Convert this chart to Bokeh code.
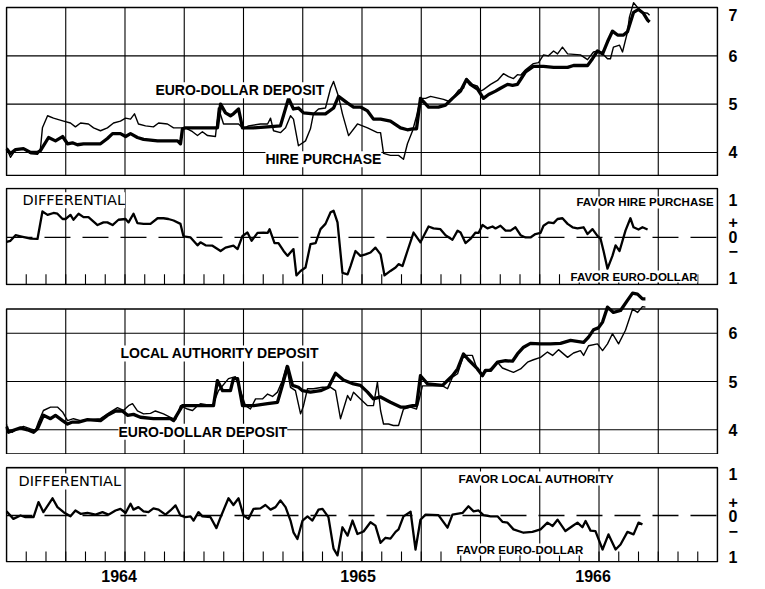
from bokeh.plotting import figure
from bokeh.layouts import column
from bokeh.models import Range1d, FixedTicker, Label
from bokeh.embed import file_html
from bokeh.resources import INLINE

# ---------------- data (x = months since Jan 1964, y = percent) ----------------
ED_TOP = [(0,4.08),(0.2,3.98),(0.46,4.06),(0.86,4.08),(1.22,4.0),(1.57,4.0),(1.72,4.04),(2.13,4.31),(2.48,4.24),(2.84,4.33),(3.09,4.18),(3.34,4.2),(3.59,4.16),(3.9,4.18),(4.76,4.18),(5.11,4.29),(5.37,4.39),(5.77,4.39),(6.03,4.33),(6.28,4.39),(6.63,4.31),(6.94,4.27),(7.65,4.24),(8.66,4.24),(8.81,4.18),(8.91,4.49),(9.06,4.51),(10.68,4.51),(10.84,5.0),(11.09,4.82),(11.34,4.76),(11.49,4.8),(11.75,4.9),(11.95,4.51),(12.51,4.51),(13.22,4.53),(13.87,4.55),(14.28,5.12),(14.53,4.9),(14.78,4.92),(15.04,4.82),(15.54,4.8),(16.15,4.8),(16.56,4.92),(16.81,5.16),(17.27,5.02),(17.57,4.94),(17.92,4.94),(18.28,4.86),(18.58,4.69),(18.94,4.69),(19.44,4.65),(19.95,4.51),(20.3,4.47),(20.56,4.49),(20.76,4.49),(20.96,5.12),(21.37,4.94),(21.87,4.94),(22.23,4.98),(22.58,5.12),(22.99,5.27),(23.29,5.51),(23.49,5.41),(23.85,5.31),(24.15,5.12),(24.41,5.2),(24.76,5.27),(25.01,5.33),(25.37,5.41),(25.62,5.39),(25.87,5.41),(26.03,5.51),(26.28,5.67),(26.68,5.78),(27.19,5.78),(27.7,5.76),(28.41,5.76),(28.71,5.8),(29.42,5.8),(29.67,5.94),(29.92,6.1),(30.18,6.04),(30.43,6.29),(30.68,6.51),(30.94,6.43),(31.24,6.43),(31.44,6.5),(31.75,6.9),(32.0,6.96),(32.25,6.88),(32.46,6.74),(32.56,6.7)]

HP_TOP = [(0,4.1),(0.2,3.9),(0.46,4.06),(0.86,4.08),(1.22,3.98),(1.57,3.96),(1.72,4.08),(1.82,4.51),(2.08,4.76),(2.38,4.71),(2.89,4.65),(3.24,4.61),(3.49,4.53),(3.75,4.61),(4.15,4.59),(4.41,4.51),(4.76,4.45),(5.11,4.51),(5.42,4.61),(5.77,4.65),(6.03,4.71),(6.28,4.69),(6.48,4.8),(6.68,4.59),(7.04,4.55),(7.44,4.53),(7.7,4.61),(8.15,4.59),(8.46,4.51),(8.91,4.51),(9.06,4.51),(9.42,4.43),(9.67,4.35),(9.92,4.43),(10.18,4.35),(10.58,4.33),(10.73,4.92),(10.99,4.59),(11.49,4.59),(11.75,4.59),(12.0,4.49),(12.25,4.55),(12.86,4.59),(13.22,4.59),(13.37,4.71),(13.52,4.45),(13.87,4.41),(14.13,4.51),(14.38,4.76),(14.53,4.69),(14.78,4.14),(15.14,4.24),(15.39,4.49),(15.54,4.8),(15.8,4.9),(16.15,4.92),(16.41,5.33),(16.56,5.47),(16.81,5.16),(17.01,4.8),(17.32,4.35),(17.77,4.59),(18.28,4.51),(18.78,4.41),(18.94,4.41),(19.09,3.98),(19.44,3.94),(19.85,3.94),(20.1,3.86),(20.3,4.18),(20.56,4.45),(20.76,4.75),(20.96,5.12),(21.22,5.12),(21.47,5.16),(22.13,5.1),(22.38,5.06),(22.58,5.12),(22.89,5.29),(23.14,5.33),(23.29,5.53),(23.59,5.41),(23.85,5.37),(24.0,5.27),(24.15,5.3),(24.51,5.41),(24.86,5.49),(25.16,5.63),(25.42,5.57),(25.67,5.53),(25.87,5.61),(26.03,5.6),(26.28,5.71),(26.68,5.84),(26.94,5.86),(27.19,6.02),(27.44,6.0),(27.7,6.1),(27.9,6.04),(28.15,6.18),(28.41,6.04),(29.06,6.02),(29.42,5.92),(29.72,6.08),(29.97,6.1),(30.23,6.02),(30.43,5.94),(30.58,5.94),(30.73,6.18),(31.04,6.22),(31.19,6.08),(31.44,6.49),(31.54,6.8),(31.75,7.1),(31.95,7.0),(32.2,6.9),(32.46,6.88),(32.56,6.84)]

DIFF_TOP = [(0,-0.12),(0.2,-0.09),(0.46,0.06),(0.71,0.03),(1.22,-0.03),(1.57,-0.04),(1.82,0.69),(2.08,0.6),(2.38,0.65),(2.58,0.63),(2.84,0.49),(2.99,0.49),(3.24,0.6),(3.39,0.47),(3.65,0.63),(3.9,0.54),(4.15,0.54),(4.61,0.33),(4.91,0.4),(5.11,0.4),(5.37,0.33),(5.67,0.47),(6.03,0.49),(6.18,0.4),(6.43,0.63),(6.63,0.38),(6.94,0.36),(7.29,0.36),(7.65,0.51),(7.95,0.51),(8.2,0.49),(8.46,0.45),(8.81,0.36),(8.96,0.03),(9.32,0.0),(9.67,-0.21),(9.82,-0.13),(10.08,-0.21),(10.43,-0.22),(10.84,-0.36),(11.09,-0.27),(11.49,-0.22),(11.7,-0.31),(11.95,0.04),(12.2,0.13),(12.41,-0.09),(12.71,0.12),(13.01,0.13),(13.22,0.12),(13.32,0.22),(13.57,-0.15),(13.77,-0.15),(14.03,-0.36),(14.23,-0.49),(14.53,-0.31),(14.68,-1.01),(14.89,-0.89),(15.14,-0.8),(15.39,-0.18),(15.65,-0.15),(15.9,0.22),(16.15,0.36),(16.41,0.67),(16.56,0.71),(16.76,0.4),(17.01,-0.94),(17.27,-0.98),(17.42,-0.76),(17.67,-0.36),(17.92,-0.49),(18.18,-0.45),(18.43,-0.4),(18.68,-0.27),(18.94,-0.45),(19.14,-1.01),(19.44,-0.89),(19.7,-0.8),(19.85,-0.71),(20.05,-0.76),(20.3,-0.36),(20.61,0.13),(20.96,-0.13),(21.37,0.29),(21.62,0.24),(21.97,0.22),(22.23,0.06),(22.58,-0.06),(22.84,0.18),(22.99,0.13),(23.24,-0.15),(23.49,-0.04),(23.75,0.13),(23.9,0.12),(24.1,0.33),(24.35,0.24),(24.61,0.29),(24.76,0.24),(25.01,0.31),(25.27,0.18),(25.52,0.18),(25.77,0.27),(26.03,0.06),(26.28,0.0),(26.53,0.0),(26.78,0.09),(27.04,0.12),(27.19,0.31),(27.44,0.4),(27.7,0.38),(27.9,0.49),(28.15,0.51),(28.41,0.36),(28.66,0.27),(28.91,0.24),(29.22,0.27),(29.42,0.09),(29.67,0.22),(29.92,0.04),(30.08,-0.04),(30.23,-0.36),(30.43,-0.83),(30.68,-0.49),(30.84,-0.21),(31.04,-0.36),(31.34,0.18),(31.59,0.51),(31.75,0.27),(32.0,0.21),(32.2,0.27),(32.46,0.21)]

ED_BOT = [(0,4.07),(0.1,3.95),(0.35,3.99),(0.71,4.04),(1.06,4.0),(1.37,3.95),(1.57,4.02),(1.87,4.3),(2.23,4.23),(2.48,4.3),(2.84,4.19),(3.09,4.12),(3.34,4.16),(3.65,4.16),(4.1,4.21),(4.76,4.19),(5.11,4.3),(5.52,4.39),(5.87,4.39),(6.13,4.3),(6.43,4.32),(6.78,4.26),(7.44,4.23),(8.3,4.23),(8.46,4.19),(8.91,4.5),(9.82,4.5),(10.48,4.5),(10.68,5.02),(10.94,4.81),(11.34,4.81),(11.49,5.06),(11.7,5.06),(11.95,4.5),(12.51,4.5),(13.22,4.54),(13.72,4.57),(13.97,4.92),(14.23,5.31),(14.48,4.92),(14.78,4.88),(14.99,4.81),(15.39,4.78),(15.9,4.81),(16.3,4.88),(16.66,5.17),(17.06,5.03),(17.57,4.95),(17.92,4.92),(18.28,4.78),(18.58,4.64),(18.94,4.68),(19.44,4.57),(19.95,4.47),(20.2,4.47),(20.56,4.5),(20.76,4.5),(20.96,5.12),(21.32,4.95),(22.08,4.92),(22.33,5.02),(22.58,5.12),(22.84,5.26),(23.14,5.57),(23.39,5.45),(23.85,5.26),(24.1,5.12),(24.25,5.23),(24.51,5.23),(24.86,5.4),(25.27,5.43),(25.62,5.42),(25.87,5.57),(26.18,5.71),(26.53,5.79),(27.04,5.78),(27.54,5.78),(28.05,5.79),(28.56,5.85),(29.22,5.81),(29.47,5.92),(29.72,6.07),(29.97,6.11),(30.18,6.23),(30.43,6.54),(30.73,6.43),(31.09,6.47),(31.44,6.68),(31.7,6.83),(31.95,6.81),(32.2,6.71),(32.35,6.71)]

LA_BOT = [(0,4.12),(0.05,3.99),(0.3,3.95),(0.56,4.02),(0.86,4.07),(1.22,4.02),(1.47,3.99),(1.62,4.16),(1.87,4.4),(2.23,4.47),(2.58,4.47),(2.84,4.37),(3.09,4.19),(3.39,4.23),(3.75,4.19),(4.25,4.21),(4.76,4.23),(5.27,4.37),(5.62,4.46),(5.92,4.4),(6.18,4.5),(6.38,4.54),(6.63,4.39),(6.94,4.33),(7.29,4.34),(7.54,4.39),(7.95,4.33),(8.3,4.26),(8.56,4.21),(8.81,4.5),(9.16,4.43),(9.42,4.4),(9.67,4.5),(9.82,4.54),(10.43,4.5),(10.73,4.81),(11.24,5.06),(11.59,5.1),(11.85,4.81),(12.1,4.5),(12.35,4.43),(12.61,4.64),(12.96,4.64),(13.22,4.74),(13.47,4.69),(13.72,4.78),(13.97,5.02),(14.18,5.33),(14.38,4.88),(14.63,4.81),(14.89,4.33),(15.04,4.5),(15.24,4.85),(15.54,4.85),(16.0,4.88),(16.41,4.88),(16.66,4.81),(16.91,4.23),(17.27,4.71),(17.42,4.61),(17.57,4.78),(17.92,4.64),(18.28,4.5),(18.58,4.5),(18.78,4.99),(18.94,4.4),(19.09,4.12),(19.34,4.12),(19.59,4.09),(19.85,4.09),(20.1,4.43),(20.46,4.47),(20.76,4.43),(20.86,4.57),(21.06,4.91),(21.37,4.91),(22.08,4.91),(22.33,4.85),(22.58,5.09),(22.84,5.16),(23.14,5.54),(23.59,5.54),(23.85,5.23),(24.1,5.16),(24.51,5.26),(24.86,5.4),(25.11,5.28),(25.67,5.19),(26.03,5.26),(26.38,5.4),(26.68,5.45),(27.04,5.5),(27.39,5.61),(27.65,5.54),(27.95,5.66),(28.41,5.5),(28.71,5.59),(29.06,5.64),(29.22,5.54),(29.47,5.74),(29.92,5.78),(30.18,5.64),(30.43,5.78),(30.68,5.99),(30.99,5.78),(31.34,6.06),(31.7,6.5),(31.95,6.43),(32.2,6.55),(32.35,6.54)]

DIFF_BOT = [(0,0.1),(0.35,-0.08),(0.71,0.0),(0.96,-0.04),(1.37,-0.04),(1.62,0.32),(1.87,0.08),(2.33,0.41),(2.58,0.2),(2.89,0.08),(3.24,-0.02),(3.49,0.12),(3.75,0.04),(4.1,0.06),(4.51,0.02),(4.86,0.08),(5.16,0.02),(5.52,0.12),(5.77,0.16),(6.03,0.06),(6.28,0.28),(6.43,0.14),(6.68,0.2),(6.94,0.1),(7.19,0.08),(7.44,0.17),(7.7,0.14),(8.05,0.02),(8.3,0.12),(8.56,0.24),(8.81,0.0),(9.06,-0.04),(9.32,-0.02),(9.47,-0.12),(9.72,0.08),(9.92,-0.02),(10.33,-0.04),(10.63,-0.3),(10.84,-0.04),(11.24,0.41),(11.49,0.25),(11.75,0.41),(12.0,0.0),(12.25,-0.08),(12.51,0.16),(12.86,0.17),(13.11,0.25),(13.37,0.14),(13.62,0.2),(13.87,0.36),(14.13,0.2),(14.38,-0.12),(14.53,-0.4),(14.73,-0.56),(14.99,-0.12),(15.24,-0.02),(15.49,-0.12),(15.8,0.14),(16.0,0.16),(16.3,-0.04),(16.56,-0.79),(16.76,-0.95),(17.01,-0.28),(17.27,-0.48),(17.52,-0.12),(17.77,-0.44),(18.08,-0.38),(18.43,-0.16),(18.68,-0.24),(18.94,-0.65),(19.19,-0.53),(19.44,-0.55),(19.7,-0.39),(19.85,-0.33),(20.1,-0.02),(20.46,0.09),(20.71,-0.81),(20.96,-0.1),(21.22,0.02),(21.87,0.01),(22.33,-0.29),(22.58,0.02),(23.09,0.06),(23.39,0.22),(23.65,0.1),(23.9,0.12),(24.15,0.01),(24.51,-0.02),(24.86,-0.02),(25.11,-0.15),(25.37,-0.17),(25.67,-0.33),(26.18,-0.41),(26.63,-0.39),(27.04,-0.33),(27.39,-0.17),(27.65,-0.25),(27.9,-0.1),(28.3,-0.37),(28.66,-0.25),(28.91,-0.17),(29.16,-0.28),(29.32,-0.13),(29.57,-0.36),(29.82,-0.37),(30.18,-0.81),(30.48,-0.45),(30.84,-0.81),(31.09,-0.69),(31.44,-0.39),(31.75,-0.45),(32.0,-0.17),(32.2,-0.21)]

QUARTERS = [3, 6, 9, 12, 15, 18, 21, 24, 27, 30, 33]
MONTHS = list(range(1, 36))
YEAR_LABELS = ["1964", "1965", "1966"]
YEAR_POS = [5.7, 17.8, 29.7]

FONT = "Liberation Sans"
FONT_THIN = "DejaVu Sans"

W = 763
LB = 5
RB = 45


def xs(d):
    return [a for a, b in d]


def ys(d):
    return [b for a, b in d]


def panel(h, y0, y1, top, bottom, ticks, overrides, xaxis=False):
    p = figure(width=W, height=h, x_range=Range1d(-0.05, 36.05), y_range=Range1d(y0, y1),
               output_backend="svg", toolbar_location=None,
               x_axis_location="below" if xaxis else None, y_axis_location="right",
               min_border_left=LB, min_border_right=RB, min_border_top=top,
               min_border_bottom=bottom)
    p.grid.visible = False
    p.outline_line_color = None
    ax = p.yaxis[0]
    ax.ticker = FixedTicker(ticks=ticks)
    ax.major_label_overrides = overrides
    ax.axis_line_color = None
    ax.major_tick_line_color = None
    ax.minor_tick_line_color = None
    ax.major_tick_out = 0
    ax.major_tick_in = 0
    ax.minor_tick_out = 0
    ax.major_label_standoff = 10
    ax.major_label_text_font = FONT
    ax.major_label_text_font_style = "bold"
    ax.major_label_text_font_size = "16px"
    ax.major_label_text_color = "black"
    return p


def frame(p, lo, hi, hlevels=(), zero=False, tick_len=None):
    if hlevels:
        p.segment(x0=0, x1=36, y0=list(hlevels), y1=list(hlevels), line_color="black", line_width=1.1)
    if zero:
        p.segment(x0=0, x1=36, y0=0, y1=0, line_color="black", line_width=1.3, line_dash="26 12")
    p.segment(x0=QUARTERS, x1=QUARTERS, y0=lo, y1=hi, line_color="black", line_width=1.1)
    if tick_len:
        p.segment(x0=MONTHS, x1=MONTHS, y0=lo, y1=lo + tick_len, line_color="black", line_width=1.1)
    p.quad(left=0, right=36, bottom=lo, top=hi, fill_color=None, line_color="black", line_width=1.6)


def label(p, x, y, text, align="left", font=FONT, size="14px", style="bold"):
    p.add_layout(Label(x=x, y=y, text=text, text_align=align, text_baseline="middle",
                       text_font=font, text_font_size=size, text_font_style=style,
                       text_color="black", background_fill_color="white"))


# ---- panel 1: Euro-dollar vs hire purchase ----
p1 = panel(176, 3.503, 7.145, 0, 0, [4, 5, 6, 6.85], {4: "4", 5: "5", 6: "6", 6.85: "7"})
frame(p1, 3.524, 7.0, hlevels=(4, 5, 6))
p1.line(xs(HP_TOP), ys(HP_TOP), line_color="black", line_width=1.4, line_join="round")
p1.line(xs(ED_TOP), ys(ED_TOP), line_color="black", line_width=3.3, line_join="round")
label(p1, 7.54, 5.29, "EURO-DOLLAR DEPOSIT")
label(p1, 13.11, 3.86, "HIRE PURCHASE")

# ---- panel 2: differential ----
p2 = panel(114, -1.277, 1.327, 11, 5, [1, 0.4, 0, -0.35, -1.07],
           {1: "1", 0.4: "+", 0: "0", -0.35: "\u2212", -1.07: "1"})
frame(p2, -1.25, 1.3, zero=True, tick_len=0.27)
p2.line(xs(DIFF_TOP), ys(DIFF_TOP), line_color="black", line_width=2.3, line_join="round")
label(p2, 0.81, 0.99, "DIFFERENTIAL", font=FONT_THIN, size="14.5px", style="normal")
label(p2, 35.8, 0.93, "FAVOR HIRE PURCHASE", align="right", size="11.5px")
label(p2, 28.56, -1.04, "FAVOR EURO-DOLLAR", size="11.5px")

# ---- panel 3: Euro-dollar vs local authority ----
p3 = panel(164, 3.489, 6.884, 0, 0, [4, 5, 6], {4: "4", 5: "5", 6: "6"})
frame(p3, 3.5, 6.5, hlevels=(4, 5, 6))
p3.line(xs(LA_BOT), ys(LA_BOT), line_color="black", line_width=1.4, line_join="round")
p3.line(xs(ED_BOT), ys(ED_BOT), line_color="black", line_width=3.3, line_join="round")
label(p3, 5.77, 5.58, "LOCAL AUTHORITY DEPOSIT")
label(p3, 5.67, 3.96, "EURO-DOLLAR DEPOSIT")

# ---- panel 4: differential ----
p4 = panel(135, -1.119, 1.167, 12, 27, [0.98, 0.33, 0, -0.36, -0.98],
           {0.98: "1", 0.33: "+", 0: "0", -0.36: "\u2212", -0.98: "1"}, xaxis=True)
frame(p4, -1.1, 1.14, zero=True, tick_len=0.24)
p4.line(xs(DIFF_BOT), ys(DIFF_BOT), line_color="black", line_width=2.3, line_join="round")
label(p4, 0.61, 0.81, "DIFFERENTIAL", font=FONT_THIN, size="14.5px", style="normal")
label(p4, 22.89, 0.88, "FAVOR LOCAL AUTHORITY", size="11.8px")
label(p4, 22.78, -0.81, "FAVOR EURO-DOLLAR", size="11.5px")
xa = p4.xaxis[0]
xa.ticker = FixedTicker(ticks=YEAR_POS)
xa.major_label_overrides = dict(zip(YEAR_POS, YEAR_LABELS))
xa.axis_line_color = None
xa.major_tick_line_color = None
xa.minor_tick_line_color = None
xa.major_tick_out = 0
xa.major_tick_in = 0
xa.minor_tick_out = 0
xa.major_label_standoff = 7
xa.major_label_text_font = FONT
xa.major_label_text_font_style = "bold"
xa.major_label_text_font_size = "16px"
xa.major_label_text_color = "black"

layout = column(p1, p2, p3, p4, spacing=0)
open("out.html", "w").write(file_html(layout, INLINE))
